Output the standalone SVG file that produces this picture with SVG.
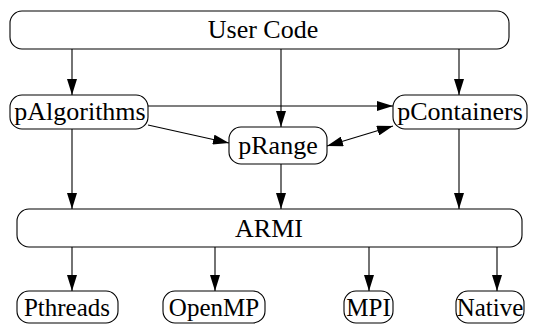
<svg xmlns="http://www.w3.org/2000/svg" width="539" height="324" viewBox="0 0 539 324" font-family="Liberation Serif, Times New Roman, serif">
<style>
.n{fill:#fff;stroke:#000;stroke-width:1.1}
.t{font-size:26px;fill:#000;text-anchor:middle}
.b{font-size:25px}
.c{stroke:#000;stroke-width:1.1;fill:none;marker-end:url(#ah)}
.d{marker-start:url(#ah)}
</style>
<defs>
<marker id="ah" viewBox="0 0 16 10" refX="16" refY="5" markerWidth="16" markerHeight="10" markerUnits="userSpaceOnUse" orient="auto-start-reverse">
<path d="M0,0 L16,5 L0,10 Z" fill="#000"/>
</marker>
</defs>
<rect width="539" height="324" fill="#fff"/>
<g id="connectors">
<line class="c" x1="72" y1="49" x2="72" y2="95"/>
<line class="c" x1="281" y1="49" x2="281" y2="127"/>
<line class="c" x1="459" y1="49" x2="459" y2="95"/>
<line class="c" x1="148" y1="106" x2="393" y2="106"/>
<line class="c" x1="148" y1="125" x2="229" y2="143"/>
<line class="c d" x1="327" y1="146" x2="393" y2="126"/>
<line class="c" x1="72" y1="129" x2="72" y2="209"/>
<line class="c" x1="281" y1="164" x2="281" y2="209"/>
<line class="c" x1="459" y1="129" x2="459" y2="209"/>
<line class="c" x1="72" y1="247" x2="72" y2="291"/>
<line class="c" x1="215" y1="247" x2="215" y2="291"/>
<line class="c" x1="369" y1="247" x2="369" y2="291"/>
<line class="c" x1="497" y1="247" x2="497" y2="291"/>
</g>
<g id="user-code"><rect class="n" x="10" y="11" width="499" height="38" rx="12"/><text class="t" x="263" y="38">User Code</text></g>
<g id="palgorithms"><rect class="n" x="10" y="95" width="138" height="34" rx="12"/><text class="t" x="80" y="120">pAlgorithms</text></g>
<g id="pcontainers"><rect class="n" x="393" y="95" width="134" height="34" rx="12"/><text class="t" x="460" y="120">pContainers</text></g>
<g id="prange"><rect class="n" x="229" y="127" width="98" height="37" rx="12"/><text class="t" x="278" y="154">pRange</text></g>
<g id="armi"><rect class="n" x="17" y="209" width="505" height="38" rx="12"/><text class="t" x="269" y="237">ARMI</text></g>
<g id="pthreads"><rect class="n" x="17" y="291" width="101" height="32" rx="12"/><text class="t b" x="67" y="316">Pthreads</text></g>
<g id="openmp"><rect class="n" x="163" y="291" width="102" height="32" rx="12"/><text class="t b" x="214" y="316">OpenMP</text></g>
<g id="mpi"><rect class="n" x="344" y="291" width="49" height="32" rx="12"/><text class="t b" x="368.5" y="316">MPI</text></g>
<g id="native"><rect class="n" x="456" y="291" width="68" height="32" rx="12"/><text class="t b" x="490" y="316">Native</text></g>
</svg>
